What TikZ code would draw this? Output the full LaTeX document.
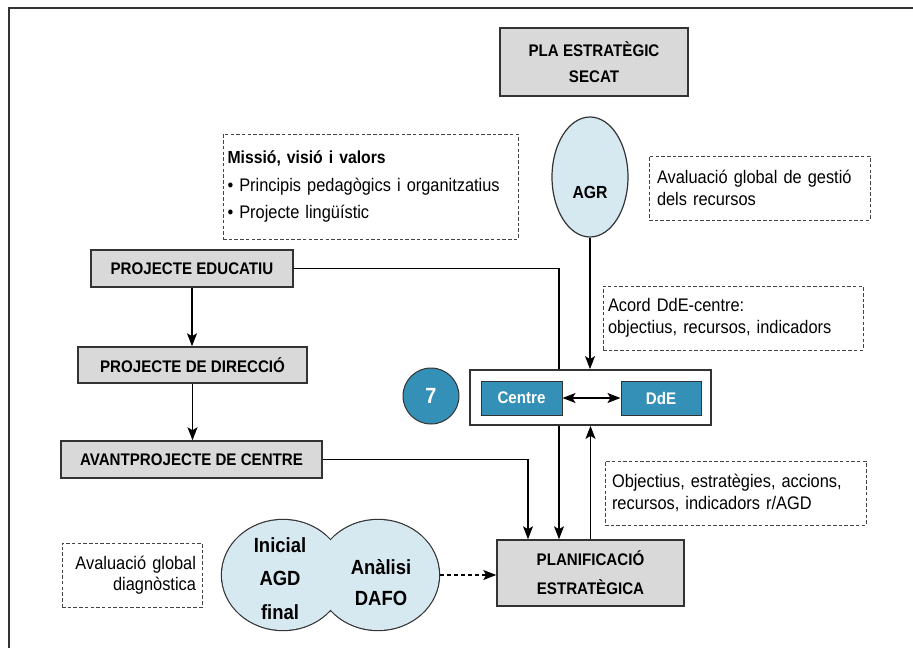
\documentclass[tikz,border=0pt]{standalone}
\usepackage{fontspec}
\setmainfont{Liberation Sans}[FakeStretch=0.9]
\usetikzlibrary{arrows.meta,shapes.geometric}
\definecolor{boxgray}{HTML}{D9D9D9}
\definecolor{edgegray}{HTML}{333333}
\definecolor{paleblue}{HTML}{D6E8F0}
\definecolor{tealblue}{HTML}{3490B6}
\definecolor{dashgray}{HTML}{444444}
\tikzset{
  hfont/.style={font=\bfseries\fontsize{16.8}{26}\selectfont},
  graybox/.style={draw=edgegray, line width=1.5pt, fill=boxgray, align=center, inner sep=0pt, hfont},
  dbox/.style={draw=dashgray, line width=1pt, dash pattern=on 3.5pt off 2.2pt, inner ysep=0pt},
  rfont/.style={font=\fontsize{18.2}{21.5}\selectfont},
  arr/.style={-{Stealth[length=13pt,width=10pt,inset=3pt]}, line width=1.2pt, draw=black},
  tealbox/.style={draw=edgegray, line width=1pt, fill=tealblue, text=white, hfont, inner sep=0pt},
  bigell/.style={ellipse, draw=edgegray, line width=2.4pt, fill=paleblue, minimum width=122pt, minimum height=110pt, inner sep=0pt},
  agdfont/.style={font=\bfseries\fontsize{20.5}{33.5}\selectfont, align=center},
}
\begin{document}
\begin{tikzpicture}[x=1pt,y=-1pt]
\useasboundingbox (0,0) rectangle (913,648);
% frame
\draw[edgegray, line width=2pt] (913,8) -- (9,8) -- (9,648);

% top box
\node[graybox, minimum width=188pt, minimum height=68pt] (pla) at (594,62) {PLA ESTRATÈGIC\\SECAT};

% left boxes
\node[graybox, minimum width=202pt, minimum height=37pt] (ped) at (192,268.5) {PROJECTE EDUCATIU};
\node[graybox, minimum width=229pt, minimum height=36pt] (pdir) at (192.5,365) {PROJECTE DE DIRECCIÓ};
\node[graybox, minimum width=261pt, minimum height=37pt] (avp) at (191.5,459.5) {AVANTPROJECTE DE CENTRE};
\node[graybox, minimum width=187pt, minimum height=66pt, font=\bfseries\fontsize{16.8}{29}\selectfont] (plan) at (590.5,573) {PLANIFICACIÓ\\ESTRATÈGICA};

% dashed boxes
\node[dbox, text width=286pt, inner xsep=4.5pt, minimum height=105pt, align=left, font=\fontsize{18.2}{27.5}\selectfont] (mis) at (370.5,186.5)
  {{\bfseries\fontsize{17.5}{27.5}\selectfont Missió, visió i valors}\\• Principis pedagògics i organitzatius\\• Projecte lingüístic};
\node[dbox, rfont, text width=205pt, inner xsep=8pt, minimum height=64pt, align=left] (agrd) at (759.5,188)
  {Avaluació global de gestió\\dels recursos};
\node[dbox, rfont, text width=250pt, inner xsep=5pt, minimum height=64pt, align=left] (acord) at (733,318)
  {Acord DdE-centre:\\objectius, recursos, indicadors};
\node[dbox, rfont, text width=247pt, inner xsep=7pt, minimum height=64pt, align=left] (obj) at (735.5,493)
  {Objectius, estratègies, accions,\\recursos, indicadors r/AGD};
\node[dbox, rfont, text width=128pt, inner xsep=6pt, minimum height=64pt, align=right] (diag) at (132,575)
  {Avaluació global\\diagnòstica};

% connectors behind the pair box
\coordinate (k1) at (559,268.5);
\coordinate (k2) at (528,459.5);
\draw[arr] (ped.east) -- (k1) -- (k1 |- plan.north);
\draw[arr] (avp.east) -- (k2) -- (k2 |- plan.north);
\draw[arr] (ped.south) -- (ped.south |- pdir.north);
\draw[arr] (pdir.south) -- (pdir.south |- avp.north);

% AGR ellipse
\node[ellipse, draw=edgegray, line width=1.2pt, fill=paleblue, minimum width=76pt, minimum height=120pt, inner sep=0pt] (agr) at (590,177) {};
\node[font=\bfseries\fontsize{17.5}{20}\selectfont] (agrt) at (590,192) {AGR};

% pair box
\node[draw=edgegray, line width=1.8pt, fill=white, minimum width=241pt, minimum height=55pt, inner sep=0pt] (pair) at (590.5,397.5) {};
\node[tealbox, minimum width=81pt, minimum height=34pt] (centre) at (521.5,398) {Centre};
\node[tealbox, minimum width=80pt, minimum height=34pt] (dde) at (661,398) {DdE};
\draw[arr, {Stealth[length=13pt,width=10pt,inset=3pt]}-{Stealth[length=13pt,width=10pt,inset=3pt]}] (centre.east) -- (dde.west);
\node[circle, draw=edgegray, line width=1pt, fill=tealblue, text=white, minimum size=56pt, inner sep=0pt, font=\bfseries\fontsize{22}{24}\selectfont] (seven) at (431,396) {7};

\draw[arr] (agr.south) -- (agr.south |- pair.north);
\draw[arr] (plan.north) -- (plan.north |- pair.south);

% AGD / DAFO
\node[bigell] (agdL) at (283,575) {};
\node[bigell] (agdR) at (378,575) {};
\fill[paleblue] (agdL.center) ellipse [x radius=61, y radius=55];
\fill[paleblue] (agdR.center) ellipse [x radius=61, y radius=55];
\node[agdfont] (tagd) at (280,578.5) {Inicial\\AGD\\final};
\node[agdfont, font=\bfseries\fontsize{20.5}{31}\selectfont] (tdafo) at (381,582.5) {Anàlisi\\DAFO};
\draw[arr, dash pattern=on 4pt off 3pt] (agdR.east) -- (agdR.east -| plan.west);
\end{tikzpicture}
\end{document}
